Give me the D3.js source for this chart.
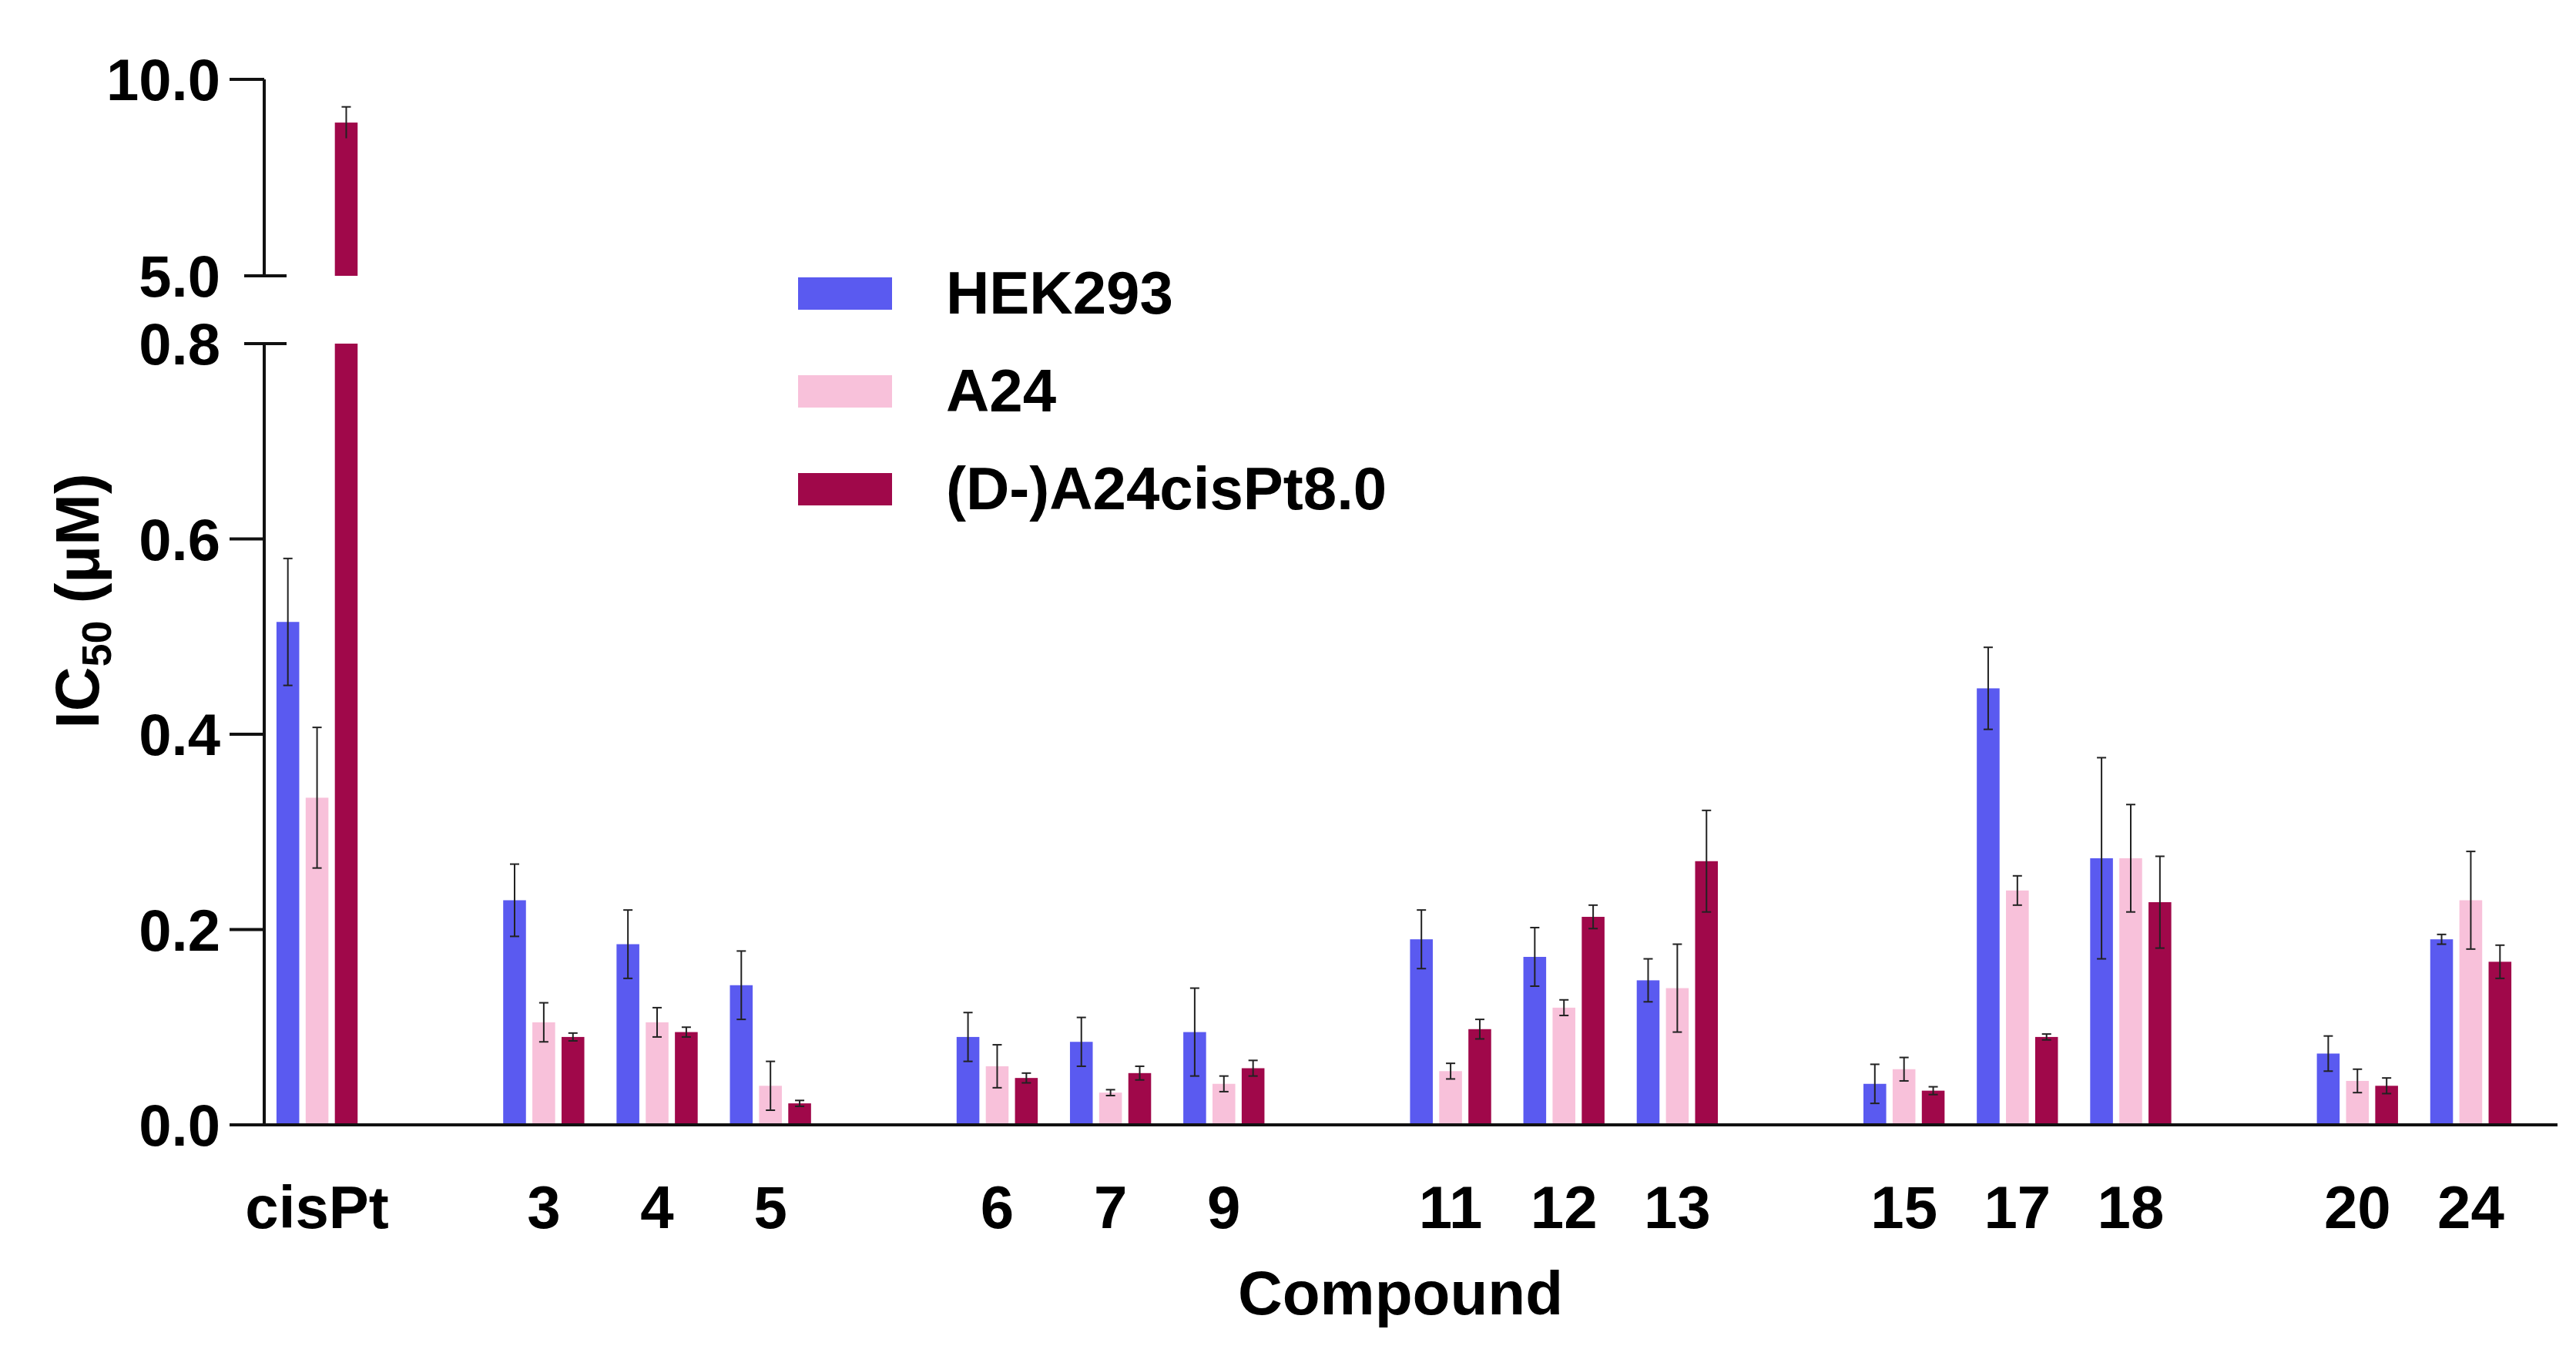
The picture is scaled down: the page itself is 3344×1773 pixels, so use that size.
<!DOCTYPE html>
<html><head><meta charset="utf-8">
<script src="https://cdn.jsdelivr.net/npm/d3@7"></script>
<style>body{margin:0;background:#fff}text{font-family:"Liberation Sans",Arial,sans-serif;font-weight:bold}</style>
</head><body><svg id="c" width="3344" height="1773"></svg>
<script>
const categories=["cisPt","3","4","5","6","7","9","11","12","13","15","17","18","20","24"];
const slots=[0,2,3,4,6,7,8,10,11,12,14,15,16,18,19];
const series=["HEK293","A24","(D-)A24cisPt8.0"];
const colors=["#5a5af0","#f8c1da","#a0084a"];
const hek=[0.515,0.23,0.185,0.143,0.09,0.085,0.095,0.19,0.172,0.148,0.042,0.447,0.273,0.073,0.19];
const hekErr=[0.065,0.037,0.035,0.035,0.025,0.025,0.045,0.03,0.03,0.022,0.02,0.042,0.103,0.018,0.005];
const a24=[0.335,0.105,0.105,0.04,0.06,0.033,0.042,0.055,0.12,0.14,0.057,0.24,0.273,0.045,0.23];
const a24Err=[0.072,0.02,0.015,0.025,0.022,0.003,0.008,0.008,0.008,0.045,0.012,0.015,0.055,0.012,0.05];
const dpt=[8.9,0.09,0.095,0.022,0.048,0.053,0.058,0.098,0.213,0.27,0.035,0.09,0.228,0.04,0.167];
const dptErr=[0.4,0.004,0.005,0.003,0.005,0.007,0.008,0.01,0.012,0.052,0.004,0.003,0.047,0.008,0.017];
const lowTicks=[0,0.2,0.4,0.6,0.8], highTicks=[5,10];
const vals=[hek,a24,dpt], errs=[hekErr,a24Err,dptErr];

const svg=d3.select("#c");
const x0=343, x1=3320;
const yL=d3.scaleLinear().domain([0,0.8]).range([1460,446]);
const yH=d3.scaleLinear().domain([5,10]).range([358,103]);
const xs=d3.scaleBand().domain(d3.range(20)).range([338,3281]).padding(0);
const off=d3.scaleBand().domain([0,1,2]).range([-61,61]).padding(0.22);
const bw=off.bandwidth();

categories.forEach((c,i)=>{
  const cx=xs(slots[i])+xs.bandwidth()/2;
  series.forEach((s,k)=>{
    const v=vals[k][i], e=errs[k][i];
    const bx=cx+off(k);
    const g=svg.append("g");
    const mx=bx+bw/2;
    if(v>0.8){
      g.append("rect").attr("x",bx).attr("width",bw).attr("y",yL(0.8)).attr("height",yL(0)-yL(0.8)).attr("fill",colors[k]);
      g.append("rect").attr("x",bx).attr("width",bw).attr("y",yH(v)).attr("height",yH(5)-yH(v)).attr("fill",colors[k]);
      g.append("line").attr("x1",mx).attr("x2",mx).attr("y1",yH(v+e)).attr("y2",yH(v-e)).attr("stroke","#222").attr("stroke-width",2);
      g.append("line").attr("x1",mx-6).attr("x2",mx+6).attr("y1",yH(v+e)).attr("y2",yH(v+e)).attr("stroke","#222").attr("stroke-width",2);
    } else {
      g.append("rect").attr("x",bx).attr("width",bw).attr("y",yL(v)).attr("height",yL(0)-yL(v)).attr("fill",colors[k]);
      g.append("line").attr("x1",mx).attr("x2",mx).attr("y1",yL(v+e)).attr("y2",yL(Math.max(0,v-e))).attr("stroke","#222").attr("stroke-width",2);
      [v+e,Math.max(0,v-e)].forEach(t=>g.append("line").attr("x1",mx-6).attr("x2",mx+6).attr("y1",yL(t)).attr("y2",yL(t)).attr("stroke","#222").attr("stroke-width",2));
    }
  });
  svg.append("text").attr("x",cx).attr("y",1594).attr("text-anchor","middle").attr("font-size",78).text(c);
});

const ax=svg.append("g").attr("stroke","#111").attr("stroke-width",4);
ax.append("line").attr("x1",x0).attr("x2",x0).attr("y1",yH(10)).attr("y2",yH(5));
ax.append("line").attr("x1",x0).attr("x2",x0).attr("y1",yL(0.8)).attr("y2",yL(0));
ax.append("line").attr("x1",300).attr("x2",x1).attr("y1",yL(0)).attr("y2",yL(0));
function tick(y,v,brk){
  ax.append("line").attr("x1",brk?317:298).attr("x2",brk?372:x0).attr("y1",y).attr("y2",y);
  svg.append("text").attr("x",286).attr("y",y+27).attr("text-anchor","end").attr("font-size",76).text(v.toFixed(1));
}
lowTicks.forEach(t=>tick(yL(t),t,t===0.8));
highTicks.forEach(t=>tick(yH(t),t,t===5));

svg.append("text").attr("x",1818).attr("y",1706).attr("text-anchor","middle").attr("font-size",80).text("Compound");
const yl=svg.append("text").attr("transform","translate(128,780) rotate(-90)").attr("text-anchor","middle").attr("font-size",80);
yl.append("tspan").text("IC");
yl.append("tspan").attr("font-size",54).attr("dy",16).text("50");
yl.append("tspan").attr("dy",-16).text(" (μM)");

series.forEach((s,k)=>{
  const y=380+k*127;
  svg.append("rect").attr("x",1036).attr("y",y-20).attr("width",122).attr("height",42).attr("fill",colors[k]);
  svg.append("text").attr("x",1228).attr("y",y+27).attr("font-size",78).text(s);
});
</script></body></html>
